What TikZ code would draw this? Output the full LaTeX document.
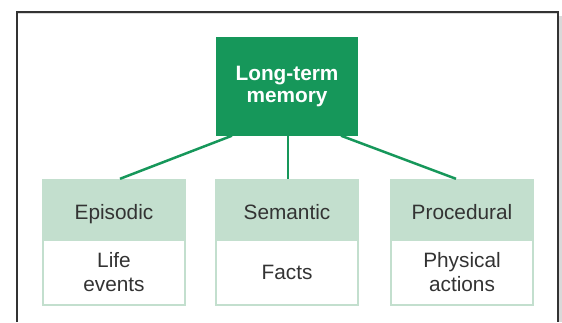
\documentclass[tikz,border=0pt]{standalone}
\usepackage{fontspec}
\setmainfont{Liberation Sans}
\usetikzlibrary{calc}
\definecolor{ltmgreen}{HTML}{16975A}
\definecolor{catgreen}{HTML}{C3DFCE}
\definecolor{inktext}{HTML}{333333}
\definecolor{framegray}{HTML}{333333}
\tikzset{
  ltmbox/.style={rectangle, fill=ltmgreen, text=white, inner sep=0pt,
    minimum width=142pt, minimum height=99pt, align=center,
    font=\bfseries\fontsize{20.8}{22}\selectfont},
  catbox/.style={rectangle, fill=catgreen, inner sep=0pt,
    minimum width=144pt, minimum height=127pt},
  cathead/.style={text=inktext, inner sep=0pt, text height=15pt, text depth=4.5pt,
    font=\fontsize{20.8}{24}\selectfont},
  catbody/.style={rectangle, fill=white, text=inktext, inner sep=0pt,
    minimum width=140pt, minimum height=63pt, align=center,
    font=\fontsize{20.8}{24}\selectfont},
  link/.style={draw=ltmgreen, line width=2.5pt}
}
\begin{document}
\begin{tikzpicture}[x=1pt,y=-1pt]
  \useasboundingbox (0,0) rectangle (562,322);
  % page frame, open at the bottom, with a soft edge on the right
  \fill[gray!30] (559,16) rectangle (562,322);
  \draw[gray!30, line width=0.8pt] (18,13.8) -- (557,13.8);
  \draw[framegray, line width=1.5pt] (17,322) -- (17,12) -- (558,12) -- (558,322);

  % root
  \node[ltmbox] (ltm) at (287,86) {Long-term\\memory};

  % three kinds of long-term memory
  \node[catbox] (epi) at (114,242.5) {};
  \node[catbox] (sem) at (287,242.5) {};
  \node[catbox] (pro) at (462,242.5) {};

  \node[cathead] (epih) at (114,214) {Episodic};
  \node[cathead] (semh) at (287,214) {Semantic};
  \node[cathead] (proh) at (462,214) {Procedural};

  \node[catbody] (epib) at (114,272.5) {Life\\events};
  \node[catbody] (semb) at (287,272.5) {Facts};
  \node[catbody] (prob) at (462,272.5) {Physical\\actions};

  % connectors
  \draw[link] ($(ltm.south)+(-55,0)$) -- ($(epi.north)+(6,0)$);
  \draw[link] ($(ltm.south)+(1,0)$) -- ($(sem.north)+(1,0)$);
  \draw[link] ($(ltm.south)+(54,0)$) -- ($(pro.north)+(-6,0)$);
\end{tikzpicture}
\end{document}
